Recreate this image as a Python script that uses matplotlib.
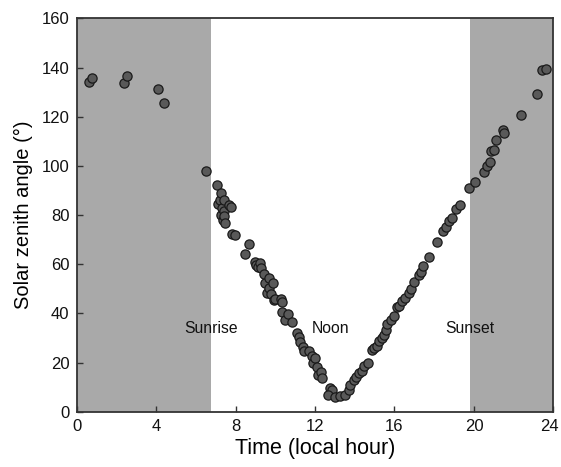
import matplotlib
matplotlib.use("Agg")
import matplotlib.pyplot as plt
import matplotlib.transforms as mtransforms

plt.rcParams['font.family'] = ['Liberation Sans', 'DejaVu Sans']

# Data (local hour, solar zenith angle in degrees)
hours = [0.65, 0.80, 2.38, 2.52, 4.09, 4.38, 6.53, 7.06, 7.14, 7.21, 7.25, 7.29,
         7.33, 7.35, 7.41, 7.41, 7.41, 7.46, 7.66, 7.75, 7.84, 7.96, 8.46, 8.67,
         9.00, 9.03, 9.12, 9.23, 9.27, 9.44, 9.46, 9.56, 9.67, 9.70, 9.80, 9.88,
         9.96, 10.0, 10.3, 10.33, 10.33, 10.49, 10.66, 10.83, 11.08, 11.21, 11.24,
         11.41, 11.44, 11.71, 11.83, 11.91, 12.0, 12.08, 12.16, 12.28, 12.33,
         12.75, 12.87, 12.67, 13.03, 13.24, 13.52, 13.69, 13.78, 13.95, 14.08,
         14.2, 14.35, 14.45, 14.68, 14.87, 14.96, 15.1, 15.21, 15.35, 15.46,
         15.55, 15.63, 15.8, 15.97, 16.14, 16.22, 16.39, 16.55, 16.72, 16.84,
         16.97, 17.22, 17.31, 17.45, 17.72, 18.14, 18.46, 18.6, 18.76, 18.9,
         19.07, 19.32, 19.74, 20.06, 20.49, 20.63, 20.83, 20.88, 21.03, 21.12,
         21.47, 21.53, 22.39, 23.16, 23.43, 23.63]
zenith = [134.2, 135.7, 133.7, 136.4, 131.5, 125.5, 97.9, 92.2, 84.5, 86.2, 79.9, 88.8,
          82.7, 78.1, 86.0, 81.5, 79.5, 76.8, 84.2, 83.1, 72.3, 71.8, 64.0, 68.3,
          60.9, 59.5, 58.8, 60.7, 58.3, 56.0, 52.3, 48.2, 50.4, 54.5, 47.8, 52.3,
          45.3, 45.9, 46.0, 44.5, 40.7, 37.2, 39.9, 36.3, 31.9, 30.6, 28.5,
          26.5, 24.5, 24.5, 22.7, 19.7, 21.8, 18.1, 15.0, 16.3, 13.7,
          9.5, 8.8, 6.8, 6.1, 6.4, 7.0, 9.0, 11.0, 13.0, 14.1,
          15.7, 16.5, 18.5, 19.9, 25.0, 25.9, 26.6, 28.8, 30.0, 31.3,
          33.4, 35.5, 37.2, 38.8, 42.6, 43.2, 44.9, 46.2, 48.2, 50.0,
          52.6, 55.7, 57.0, 59.1, 62.9, 69.0, 73.5, 75.0, 77.4, 78.8,
          82.5, 84.2, 91.0, 93.4, 97.4, 100.1, 101.8, 105.9, 106.3, 110.7,
          114.7, 113.4, 120.6, 129.2, 139.2, 139.6]

sunrise = 6.75
sunset = 19.8
labels = ["Sunrise", "Noon", "Sunset"]
label_x = [6.75, 12.8, 19.8]
label_y = 34

xticks = [0, 4, 8, 12, 16, 20, 24]
yticks = [0, 20, 40, 60, 80, 100, 120, 140, 160]

fig = plt.figure(figsize=(5.61, 4.67), dpi=100)
ax = fig.add_axes([0.1364, 0.1184, 0.8502, 0.8420])

ax.axvspan(0, sunrise, color='#a9a9a9', lw=0, zorder=0)
ax.axvspan(sunset, 24, color='#a9a9a9', lw=0, zorder=0)

ax.scatter(hours, zenith, s=44, c='#595959', edgecolors='#1a1a1a', linewidths=0.9, zorder=3)

for t, x in zip(labels, label_x):
    ax.text(x, label_y, t, ha='center', va='center', fontsize=11.3, color='#111111', zorder=4)

ax.set_xlim(0, 24)
ax.set_ylim(0, 160)
ax.set_xticks(xticks)
ax.set_yticks(yticks)
ax.tick_params(direction='in', length=4, width=1, labelsize=12, colors='#333333',
               labelcolor='#111111', pad=5)
ax.tick_params(top=False, right=False)
for s in ax.spines.values():
    s.set_linewidth(1.3)
    s.set_color('#333333')

# nudge the last x tick label so it stays inside the canvas
last = ax.get_xticklabels()[-1]
last.set_transform(last.get_transform() +
                   mtransforms.ScaledTranslation(-4 / 100, 0, fig.dpi_scale_trans))

ax.set_xlabel("Time (local hour)", fontsize=15.5, labelpad=3)
ax.set_ylabel("Solar zenith angle (°)", fontsize=14.5, labelpad=6)

fig.savefig("out.png", dpi=100)
